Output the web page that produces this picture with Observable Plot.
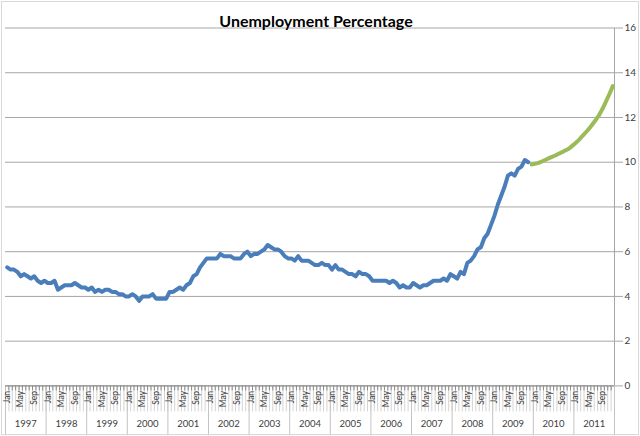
<!DOCTYPE html>
<html>
<head>
<meta charset="utf-8">
<script src="https://cdn.jsdelivr.net/npm/d3@7"></script>
<script src="https://cdn.jsdelivr.net/npm/@observablehq/plot@0.6"></script>
<style>
  body { margin: 0; background: white; }
  #chart svg { display: block; outline: 1px solid #d9d9d9; outline-offset: -2px; }
</style>
</head>
<body>
<div id="chart"></div>
<script>
const years = [1997, 1998, 1999, 2000, 2001, 2002, 2003, 2004, 2005, 2006, 2007, 2008, 2009, 2010, 2011];
const monthNames = ["Jan","Feb","Mar","Apr","May","Jun","Jul","Aug","Sep","Oct","Nov","Dec"];
const shownMonths = ["Jan", "May", "Sep"];
const yTicks = [0, 2, 4, 6, 8, 10, 12, 14, 16];

// Monthly unemployment rate, Jan 1997 – Nov 2009 (actual)
const actual = [
  5.3, 5.2, 5.2, 5.1, 4.9, 5.0, 4.9, 4.8, 4.9, 4.7, 4.6, 4.7,
  4.6, 4.6, 4.7, 4.3, 4.4, 4.5, 4.5, 4.5, 4.6, 4.5, 4.4, 4.4,
  4.3, 4.4, 4.2, 4.3, 4.2, 4.3, 4.3, 4.2, 4.2, 4.1, 4.1, 4.0,
  4.0, 4.1, 4.0, 3.8, 4.0, 4.0, 4.0, 4.1, 3.9, 3.9, 3.9, 3.9,
  4.2, 4.2, 4.3, 4.4, 4.3, 4.5, 4.6, 4.9, 5.0, 5.3, 5.5, 5.7,
  5.7, 5.7, 5.7, 5.9, 5.8, 5.8, 5.8, 5.7, 5.7, 5.7, 5.9, 6.0,
  5.8, 5.9, 5.9, 6.0, 6.1, 6.3, 6.2, 6.1, 6.1, 6.0, 5.8, 5.7,
  5.7, 5.6, 5.8, 5.6, 5.6, 5.6, 5.5, 5.4, 5.4, 5.5, 5.4, 5.4,
  5.2, 5.4, 5.2, 5.2, 5.1, 5.0, 5.0, 4.9, 5.1, 5.0, 5.0, 4.9,
  4.7, 4.7, 4.7, 4.7, 4.7, 4.6, 4.7, 4.6, 4.4, 4.5, 4.4, 4.4,
  4.6, 4.5, 4.4, 4.5, 4.5, 4.6, 4.7, 4.7, 4.7, 4.8, 4.7, 5.0,
  4.9, 4.8, 5.1, 5.0, 5.5, 5.6, 5.8, 6.1, 6.2, 6.6, 6.8, 7.2,
  7.6, 8.1, 8.5, 8.9, 9.4, 9.5, 9.4, 9.7, 9.8, 10.1, 10.0
];
// Projection, Dec 2009 – Dec 2011
const projected = [
  9.9,
  9.93, 9.97, 10.03, 10.1, 10.17, 10.24, 10.3, 10.38, 10.45, 10.53, 10.6, 10.73,
  10.86, 11.0, 11.17, 11.33, 11.5, 11.7, 11.9, 12.12, 12.4, 12.72, 13.05, 13.4
];

const nMonths = years.length * 12;
const actualData = actual.map((v, i) => ({i, v}));
const projStart = actual.length;
const projData = projected.map((v, k) => ({i: projStart + k, v}));
const monthBoundaries = d3.range(nMonths + 1).map(i => i - 0.5);
const yearBoundaries = d3.range(years.length + 1).map(k => k * 12 - 0.5);
const labelIdx = d3.range(nMonths).filter(i => shownMonths.includes(monthNames[i % 12]));
const yearRows = years.map((y, k) => ({year: String(y), c: k * 12 + 5.5}));

const font = "Lato, 'Open Sans', sans-serif";

const chart = Plot.plot({
  width: 640,
  height: 436,
  marginLeft: 5,
  marginRight: 26,
  marginTop: 27.5,
  marginBottom: 50.6,
  x: {domain: [-0.5, nMonths - 0.5], label: null},
  y: {domain: [0, 16], label: null},
  style: {fontFamily: font, background: "white"},
  marks: [
    Plot.ruleY(yTicks, {x1: -0.5, x2: nMonths - 0.5, stroke: "#a6a6a6", strokeWidth: 1}),
    Plot.ruleX([nMonths - 0.5], {y1: 0, y2: 16, stroke: "#a6a6a6"}),
    Plot.axisY(yTicks, {anchor: "right", label: null, tickSize: 8, tickPadding: 2, fontSize: 10, color: "#404040", stroke: "#a6a6a6"}),
    Plot.axisX(monthBoundaries, {anchor: "bottom", label: null, tickSize: 26, tickPadding: 0, tickFormat: () => "", stroke: "#d4d4d4"}),
    Plot.axisX(monthBoundaries, {anchor: "bottom", label: null, tickSize: 5, tickPadding: 0, tickFormat: () => "", stroke: "#8c8c8c"}),
    Plot.axisX(yearBoundaries, {anchor: "bottom", label: null, tickSize: 50, tickPadding: 0, tickFormat: () => "", stroke: "#c4c4c4"}),
    Plot.axisX(labelIdx, {anchor: "bottom", label: null, tickSize: 0, tickPadding: 5, tickRotate: -90, tickFormat: i => monthNames[i % 12], fontSize: 8.5, color: "#404040"}),
    Plot.text(yearRows, {x: "c", y: 0, dy: 38, text: "year", fontSize: 9.5, fill: "#404040"}),
    Plot.ruleY([0], {x1: -0.5, x2: nMonths - 0.5, stroke: "#8c8c8c"}),
    Plot.line(actualData, {x: "i", y: "v", stroke: "#4a7ebb", strokeWidth: 4, strokeLinejoin: "round", strokeLinecap: "round"}),
    Plot.line(projData, {x: "i", y: "v", stroke: "#9bbb59", strokeWidth: 4, strokeLinejoin: "round", strokeLinecap: "round"}),
    Plot.text(["Unemployment Percentage"], {frameAnchor: "top", lineAnchor: "bottom", dx: 6, dy: -1, fontSize: 16, fontWeight: "bold", fill: "#000"})
  ]
});
document.getElementById("chart").appendChild(chart);
</script>
</body>
</html>
